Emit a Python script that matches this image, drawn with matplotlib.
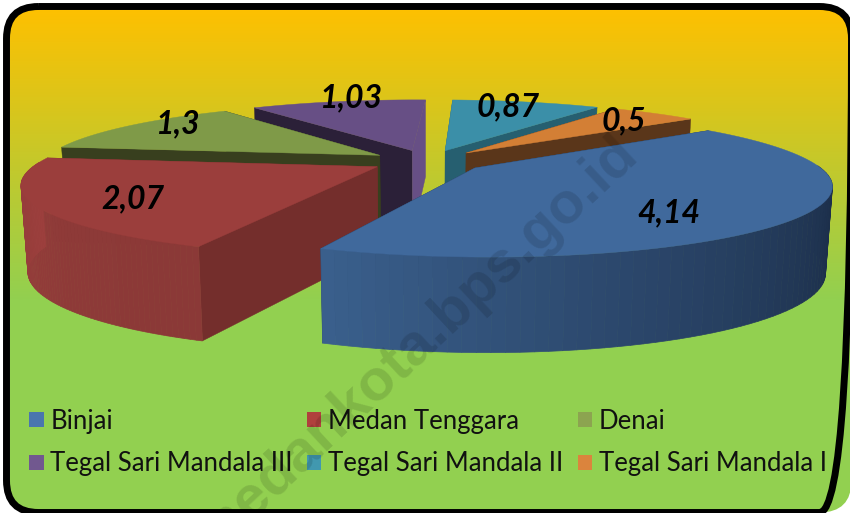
import matplotlib
matplotlib.use("Agg")
import matplotlib.pyplot as plt
import numpy as np
from matplotlib.colors import LinearSegmentedColormap, to_rgb
from matplotlib.patches import FancyBboxPatch, Patch

plt.rcParams['font.family'] = ['Lato', 'DejaVu Sans']

names = ["Binjai", "Medan Tenggara", "Denai", "Tegal Sari Mandala III", "Tegal Sari Mandala II", "Tegal Sari Mandala I"]
values = [4.14, 2.07, 1.3, 1.03, 0.87, 0.5]

legend_colors = ["#4A76AE", "#B0403D", "#8CA450", "#71588F", "#4198AF", "#DB843D"]
top_colors = ["#40699C", "#9B3E3C", "#7F9A48", "#674F85", "#3B8FA8", "#D37F35"]
wall_colors = ["#1E304C", "#742E2C", "#383F1E", "#2B2038", "#265F70", "#5A361A"]
# outer wall colour at start and end of each slice
rim_start = ["#15233A", "#8B3937", "#5F7335", "#4E3C65", "#2C6B7E", "#A0602A"]
rim_end = ["#3A5F8C", "#9E403E", "#5F7335", "#4E3C65", "#2C6B7E", "#A0602A"]
label_xy = [(669, 213), (133, 199), (178, 124), (351, 98), (508, 107), (624, 121)]

# fake 3d projection, tuned by eye
cx, cy = 428, 161
A, B, p = 338, 66, 0.22
explode = 0.17
start_angle = 52
depth, depth_grow, shrink = 84, 0.12, 0.983


def top_pt(X, Y):
    s = 1 / (1 + p * Y)
    return cx + A * X * s, cy - B * Y * s


def bottom_pt(x, y):
    return cx + (x - cx) * shrink, y + depth + depth_grow * (y - cy)


fig = plt.figure(figsize=(8.5, 5.13), dpi=100)
ax = fig.add_axes([0, 0, 1, 1])
ax.set_xlim(0, 850)
ax.set_ylim(513, 0)
ax.axis("off")

panel = FancyBboxPatch((6.5, 6.5), 845, 506, boxstyle="round,pad=0,rounding_size=32",
                       facecolor="none", edgecolor="black", linewidth=5, zorder=50)
ax.add_patch(panel)
cmap = LinearSegmentedColormap.from_list("bg", ["#FFC000", "#92D050"])
grad = np.linspace(0, 1, 256).reshape(-1, 1)
im = ax.imshow(grad, cmap=cmap, extent=(0, 850, 300, 5), aspect="auto", zorder=0)
ax.set_xlim(0, 850)
ax.set_ylim(513, 0)
low = ax.fill_between([0, 850], 300, 513, color="#92D050", lw=0, zorder=0)
im.set_clip_path(panel)
low.set_clip_path(panel)

angles = start_angle + np.cumsum([0] + values) / sum(values) * 360
mids = (angles[:-1] + angles[1:]) / 2
order = sorted(range(len(values)), key=lambda i: -np.cos(np.radians(mids[i])))

z = 1
for i in order:
    ex = explode * np.sin(np.radians(mids[i]))
    ey = explode * np.cos(np.radians(mids[i]))
    th = np.radians(np.linspace(angles[i], angles[i + 1], 80))
    arc = np.array([top_pt(ex + np.sin(t), ey + np.cos(t)) for t in th])
    apex = np.array(top_pt(ex, ey))

    # radial walls
    for j, end_pt in enumerate([arc[0], arc[-1]]):
        pts = [apex, end_pt, bottom_pt(*end_pt), bottom_pt(*apex)]
        col = wall_colors[i]
        if i == 3 and j == 1:
            col = top_colors[i]
        ax.fill(*zip(*pts), color=col, lw=0.3, zorder=z)
        z += 1

    # outer wall, only the part facing us, split up for the shading
    c0, c1 = np.array(to_rgb(rim_start[i])), np.array(to_rgb(rim_end[i]))
    for k in range(len(arc) - 1):
        if np.cos(th[k]) > 0.05:
            continue
        col = c0 + (c1 - c0) * (k / (len(arc) - 2)) ** 1.6
        a, b = arc[k], arc[k + 1]
        ax.fill(*zip(a, b, bottom_pt(*b), bottom_pt(*a)), color=col, lw=0.5, zorder=z)
    z += 1

    ax.fill(*zip(apex, *arc), color=top_colors[i], lw=0.3, zorder=z)
    z += 1

for v, (x, y) in zip(values, label_xy):
    ax.text(x, y, f"{v:g}".replace(".", ","), ha="center", va="center", fontsize=23,
            fontweight="bold", fontstyle="italic", color="black", zorder=40)

handles = [Patch(facecolor=c, edgecolor="none", label=n) for c, n in zip(legend_colors, names)]
pick = [0, 3, 1, 4, 2, 5]
leg = ax.legend([handles[i] for i in pick], [names[i] for i in pick], ncol=3, frameon=False,
                fontsize=18.5, loc="center", bbox_to_anchor=(428 / 850, 1 - 442.5 / 513),
                handlelength=0.55, handleheight=0.55, handletextpad=0.27,
                columnspacing=0.55, labelspacing=0.69, labelcolor="#111111")
leg.set_zorder(41)

wm = ax.text(415, 345, "medankota.bps.go.id", rotation=43, rotation_mode="anchor", ha="center", va="center",
             fontsize=42, fontweight="bold", family=["Liberation Sans", "DejaVu Sans"],
             color="black", alpha=0.12, zorder=45)
wm.set_clip_path(panel)

fig.savefig("out.png", dpi=100)
